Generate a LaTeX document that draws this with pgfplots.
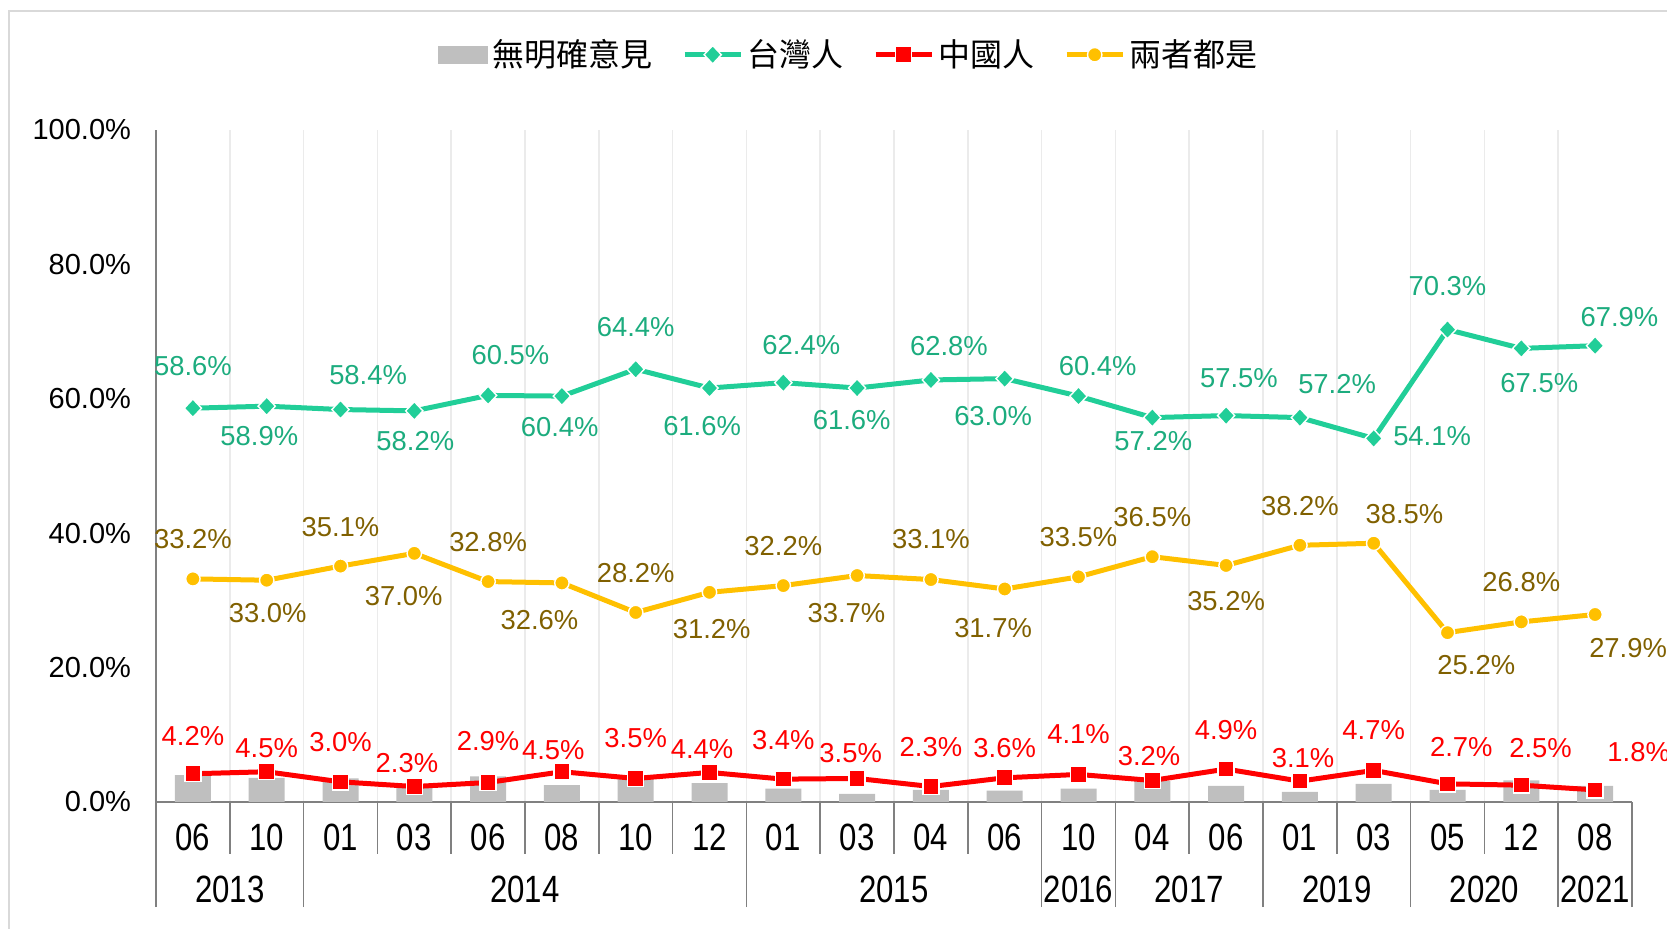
\documentclass[border=0pt]{standalone}
\usepackage{pgfplots}
\pgfplotsset{compat=1.18}
\usepackage{pgfplotstable}
\usepackage{fontspec}
\setmainfont{Liberation Sans}
\newfontfamily\cjk{Noto Sans CJK TC}
\newfontfamily\narrow[FakeStretch=0.82]{Liberation Sans}
\definecolor{tw}{RGB}{33,206,152}
\definecolor{twl}{RGB}{28,172,126}
\definecolor{cn}{RGB}{255,0,0}
\definecolor{bo}{RGB}{255,192,0}
\definecolor{bol}{RGB}{128,96,0}
\definecolor{nb}{RGB}{191,191,191}
\definecolor{framec}{RGB}{217,217,217}
\definecolor{axc}{RGB}{128,128,128}

\pgfplotstableread{
x bar
0 4.0
1 3.6
2 3.5
3 2.5
4 3.8
5 2.5
6 3.9
7 2.8
8 2.0
9 1.2
10 1.8
11 1.7
12 2.0
13 3.1
14 2.4
15 1.5
16 2.7
17 1.8
18 3.2
19 2.4
}\bardata

\pgfplotstableread{
x v dx dy
0 58.6 0 21.3
1 58.9 -3.7 -14.9
2 58.4 13.8 17
3 58.2 0.5 -14.9
4 60.5 11.2 20.2
5 60.4 -1.1 -15.4
6 64.4 0 21.3
7 61.6 -3.7 -19.1
8 62.4 9 18.6
9 61.6 -2.7 -16
10 62.8 9 17
11 63.0 -5.8 -18.6
12 60.4 9.6 14.9
13 57.2 0.5 -11.7
14 57.5 6.4 18.6
15 57.2 18.6 17
16 54.1 29.2 1
17 70.3 0 21.8
18 67.5 9 -17.5
19 67.9 12.2 14.4
}\twdata

\pgfplotstableread{
x v dx dy
0 4.2 0 19.1
1 4.5 0 11.7
2 3.0 0 19.7
3 2.3 -3.7 11.7
4 2.9 0 20.7
5 4.5 -4.3 10.6
6 3.5 0 20.2
7 4.4 -3.7 11.7
8 3.4 0 19.7
9 3.5 -3.2 12.8
10 2.3 0 19.7
11 3.6 0 14.9
12 4.1 0 20.2
13 3.2 -1.6 12.2
14 4.9 0 19.7
15 3.1 1.6 11.7
16 4.7 0 20.2
17 2.7 6.9 18.6
18 2.5 9.6 18.6
19 1.8 21.8 19.1
}\cndata

\pgfplotstableread{
x v dx dy
0 33.2 0 19.7
1 33.0 0.5 -16.5
2 35.1 0 19.7
3 37.0 -5.3 -21.3
4 32.8 0 19.7
5 32.6 -11.2 -18.6
6 28.2 0 19.7
7 31.2 1.1 -18.6
8 32.2 0 19.7
9 33.7 -5.3 -18.6
10 33.1 0 20.2
11 31.7 -5.8 -19.7
12 33.5 0 19.7
13 36.5 0 19.7
14 35.2 0 -18
15 38.2 0 19.7
16 38.5 15.4 14.4
17 25.2 14.4 -16
18 26.8 0 19.7
19 27.9 16.5 -17
}\bodata

\pgfplotsset{
  lbl/.style={
    point meta=explicit,
    nodes near coords={\pgfmathprintnumber[fixed,fixed zerofill,precision=1]{\pgfplotspointmeta}\%},
    visualization depends on={\thisrow{dx} \as \dx},
    visualization depends on={\thisrow{dy} \as \dy},
    every node near coord/.append style={anchor=center, xshift=\dx pt, yshift=\dy pt, text=#1, inner sep=0pt, font=\fontsize{13.7}{16}\selectfont},
  },
  lineleg/.style={legend image code/.code={\draw[mark repeat=2,mark phase=2,##1] plot coordinates {(0pt,0pt) (14pt,0pt) (28pt,0pt)};}},
}

\begin{document}
\begin{tikzpicture}
\useasboundingbox (0,0) rectangle (833.5pt,464.5pt);
\draw[framec, line width=1pt] (4.25pt,0) -- (4.25pt,459.2pt) -- (833.5pt,459.2pt);
\begin{axis}[
  at={(78pt,63.5pt)}, anchor=south west,
  scale only axis, width=738pt, height=336pt,
  xmin=-0.5, xmax=19.5, ymin=0, ymax=100,
  clip=false,
  axis x line*=bottom, axis y line*=left,
  axis line style={axc, line width=0.8pt, -},
  xtick={0,...,19},
  xticklabels={06,10,01,03,06,08,10,12,01,03,04,06,10,04,06,01,03,05,12,08},
  xticklabel style={font=\narrow\fontsize{19}{22}\selectfont, anchor=center, yshift=-17.5pt},
  major tick length=0pt,
  minor xtick={0.5,1.5,...,18.5},
  minor tick length=26pt,
  tick align=outside,
  tick style={axc, line width=0.8pt},
  xminorgrids=true,
  minor grid style={draw=black!8, line width=0.8pt},
  extra x ticks={-0.5,1.5,7.5,11.5,12.5,14.5,16.5,18.5,19.5},
  extra x tick labels={},
  extra x tick style={major tick length=52.5pt, grid=none},
  ytick={0,20,...,100},
  yticklabel={\pgfmathprintnumber[fixed,fixed zerofill,precision=1]{\tick}\%},
  yticklabel style={font=\fontsize{14.5}{17}\selectfont, xshift=-9pt},
  /pgf/number format/assume math mode=true,
  legend columns=4,
  legend style={at={(0.47,1.112)}, anchor=center, draw=none, fill=none,
    font=\cjk\fontsize{16}{19}\selectfont,
    /tikz/every even column/.append style={column sep=13pt},
    inner sep=0pt},
]
\addplot[ybar, bar width=18pt, fill=nb, draw=none,
  legend image code/.code={\fill[nb] (0pt,-4.5pt) rectangle (25pt,4.5pt);}]
  table[x=x, y=bar] {\bardata};
\addlegendentry{無明確意見}

\addplot[tw, line width=2.5pt, mark=diamond*, mark size=4.6pt,
  mark options={fill=tw, draw=white, line width=0.7pt, xscale=1.25}, lineleg, lbl=twl]
  table[x=x, y=v, meta=v] {\twdata};
\addlegendentry{台灣人}

\addplot[cn, line width=2.5pt, mark=square*, mark size=4pt,
  mark options={fill=cn, draw=white, line width=0.7pt}, lineleg, lbl=cn]
  table[x=x, y=v, meta=v] {\cndata};
\addlegendentry{中國人}

\addplot[bo, line width=2.5pt, mark=*, mark size=3.6pt,
  mark options={fill=bo, draw=white, line width=0.7pt}, lineleg, lbl=bol]
  table[x=x, y=v, meta=v] {\bodata};
\addlegendentry{兩者都是}

\node[font=\narrow\fontsize{19}{22}\selectfont, yshift=-43.5pt] at (axis cs:0.5,0) {2013};
\node[font=\narrow\fontsize{19}{22}\selectfont, yshift=-43.5pt] at (axis cs:4.5,0) {2014};
\node[font=\narrow\fontsize{19}{22}\selectfont, yshift=-43.5pt] at (axis cs:9.5,0) {2015};
\node[font=\narrow\fontsize{19}{22}\selectfont, yshift=-43.5pt] at (axis cs:12,0) {2016};
\node[font=\narrow\fontsize{19}{22}\selectfont, yshift=-43.5pt] at (axis cs:13.5,0) {2017};
\node[font=\narrow\fontsize{19}{22}\selectfont, yshift=-43.5pt] at (axis cs:15.5,0) {2019};
\node[font=\narrow\fontsize{19}{22}\selectfont, yshift=-43.5pt] at (axis cs:17.5,0) {2020};
\node[font=\narrow\fontsize{19}{22}\selectfont, yshift=-43.5pt] at (axis cs:19,0) {2021};
\end{axis}
\end{tikzpicture}
\end{document}
